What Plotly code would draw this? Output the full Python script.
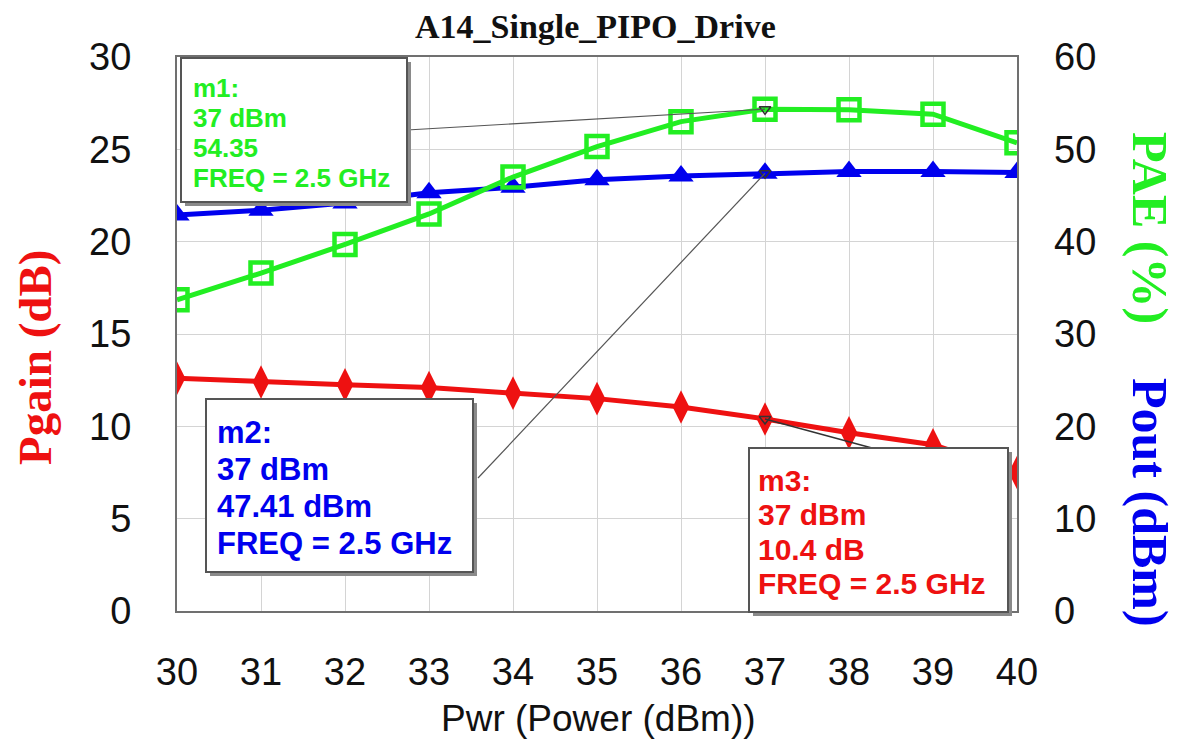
import plotly.graph_objects as go

# ---------------- data ----------------
pwr = [30, 31, 32, 33, 34, 35, 36, 37, 38, 39, 40]
pgain = [12.6, 12.4, 12.25, 12.1, 11.8, 11.5, 11.05, 10.4, 9.65, 9.0, 7.5]
pae = [33.7, 36.6, 39.7, 43.0, 47.0, 50.3, 53.0, 54.35, 54.3, 53.8, 50.7]
pout = [42.9, 43.4, 44.2, 45.3, 45.9, 46.7, 47.1, 47.41, 47.6, 47.6, 47.5]
x_ticks = [30, 31, 32, 33, 34, 35, 36, 37, 38, 39, 40]
left_ticks = [0, 5, 10, 15, 20, 25, 30]
right_ticks = [0, 10, 20, 30, 40, 50, 60]
marker_x = 37
m1_lines = ["m1:", "37 dBm", "54.35", "FREQ = 2.5 GHz"]
m2_lines = ["m2:", "37 dBm", "47.41 dBm", "FREQ = 2.5 GHz"]
m3_lines = ["m3:", "37 dBm", "10.4 dB", "FREQ = 2.5 GHz"]

GREEN = "#22ee22"
BLUE = "#0000ee"
RED = "#ee1111"

OFF = 8  # page body margin in the browser
W, H = 1180 - OFF, 751 - OFF
PX0, PX1, PY0, PY1 = 177, 1017, 57, 611  # plot area in reference pixels


def px2paper_x(px):
    return (px - PX0) / (PX1 - PX0)


def px2paper_y(py):
    return (PY1 - py) / (PY1 - PY0)


def px2x(px):
    return 30 + (px - PX0) / (PX1 - PX0) * 10


def px2y(py, top):
    return (PY1 - py) / (PY1 - PY0) * top


fig = go.Figure()

fig.add_trace(go.Scatter(x=pwr, y=pgain, mode="lines+markers", yaxis="y",
                         line=dict(color=RED, width=5),
                         marker=dict(symbol="diamond-tall", size=24, color=RED,
                                     line=dict(width=0)),
                         showlegend=False))
fig.add_trace(go.Scatter(x=pwr, y=pout, mode="lines+markers", yaxis="y2",
                         line=dict(color=BLUE, width=5),
                         marker=dict(symbol="triangle-up", size=22, color=BLUE,
                                     line=dict(width=0)),
                         showlegend=False))
fig.add_trace(go.Scatter(x=pwr, y=pae, mode="lines+markers", yaxis="y2",
                         line=dict(color=GREEN, width=5),
                         marker=dict(symbol="square-open", size=21, color=GREEN,
                                     line=dict(width=4.5, color=GREEN)),
                         showlegend=False))

i37 = pwr.index(marker_x)
# marker glyphs at 37 dBm
fig.add_trace(go.Scatter(x=[marker_x, marker_x], y=[pae[i37], pout[i37]], mode="markers",
                         yaxis="y2",
                         marker=dict(symbol="triangle-down-open", size=10, color="#333333",
                                     line=dict(width=1.5, color="#333333")),
                         showlegend=False))
fig.add_trace(go.Scatter(x=[marker_x], y=[pgain[i37]], mode="markers", yaxis="y",
                         marker=dict(symbol="triangle-down-open", size=10, color="#333333",
                                     line=dict(width=1.5, color="#333333")),
                         showlegend=False))

shapes = []
annotations = []

# connector lines
shapes.append(dict(type="line", xref="x", yref="y2", layer="above",
                   x0=px2x(407), y0=px2y(130, 60), x1=marker_x, y1=pae[i37],
                   line=dict(color="#555555", width=1.2)))
shapes.append(dict(type="line", xref="x", yref="y2", layer="above",
                   x0=px2x(478), y0=px2y(478, 60), x1=marker_x, y1=pout[i37],
                   line=dict(color="#555555", width=1.2)))
shapes.append(dict(type="line", xref="x", yref="y", layer="above",
                   x0=px2x(872), y0=px2y(448, 30), x1=marker_x, y1=pgain[i37],
                   line=dict(color="#333333", width=1.5)))


def add_box(x0, y0, x1, y1, lines, color, fsize, first_y, step, tx):
    shapes.append(dict(type="rect", xref="paper", yref="paper", layer="above",
                       x0=px2paper_x(x0 + 4), x1=px2paper_x(x1 + 4),
                       y0=px2paper_y(y1 + 4), y1=px2paper_y(y0 + 4),
                       fillcolor="#8a8a8a", line=dict(width=0)))
    shapes.append(dict(type="rect", xref="paper", yref="paper", layer="above",
                       x0=px2paper_x(x0), x1=px2paper_x(x1),
                       y0=px2paper_y(y1), y1=px2paper_y(y0),
                       fillcolor="white", line=dict(color="#555555", width=2)))
    for k, t in enumerate(lines):
        annotations.append(dict(xref="paper", yref="paper", x=px2paper_x(tx),
                                y=px2paper_y(first_y + k * step), text="<b>" + t + "</b>",
                                showarrow=False, xanchor="left", yanchor="middle",
                                font=dict(family="Liberation Sans", size=fsize,
                                          color=color)))


add_box(181, 58, 407, 202, m1_lines, GREEN, 26, 88, 30, 191)
add_box(206, 399, 473, 572, m2_lines, BLUE, 31, 432, 37, 215)
add_box(749, 448, 1008, 612, m3_lines, RED, 30, 480, 34.5, 756)

# titles
annotations.append(dict(xref="paper", yref="paper", x=px2paper_x(595), y=px2paper_y(27),
                        text="<b>A14_Single_PIPO_Drive</b>", showarrow=False,
                        xanchor="center", yanchor="middle",
                        font=dict(family="Liberation Serif", size=34, color="#111111")))
annotations.append(dict(xref="paper", yref="paper", x=px2paper_x(598), y=px2paper_y(718),
                        text="Pwr (Power (dBm))", showarrow=False,
                        xanchor="center", yanchor="middle",
                        font=dict(family="Liberation Sans", size=37, color="#111111")))
annotations.append(dict(xref="paper", yref="paper", x=px2paper_x(35), y=px2paper_y(358),
                        text="<b>Pgain (dB)</b>", showarrow=False, textangle=-90,
                        xanchor="center", yanchor="middle",
                        font=dict(family="Liberation Serif", size=47, color=RED)))
annotations.append(dict(xref="paper", yref="paper", x=px2paper_x(1150), y=px2paper_y(228),
                        text="<b>PAE (%)</b>", showarrow=False, textangle=90,
                        xanchor="center", yanchor="middle",
                        font=dict(family="Liberation Serif", size=50, color=GREEN)))
annotations.append(dict(xref="paper", yref="paper", x=px2paper_x(1150), y=px2paper_y(502),
                        text="<b>Pout (dBm)</b>", showarrow=False, textangle=90,
                        xanchor="center", yanchor="middle",
                        font=dict(family="Liberation Serif", size=50, color=BLUE)))

tickfont = dict(family="Liberation Sans", size=38, color="#111111")

fig.update_layout(
    width=W, height=H,
    margin=dict(l=PX0 - OFF, r=W - (PX1 - OFF), t=PY0 - OFF, b=H - (PY1 - OFF)),
    paper_bgcolor="white", plot_bgcolor="white",
    xaxis=dict(range=[30, 40], tickvals=x_ticks, ticktext=[str(v) for v in x_ticks],
               showgrid=True, gridcolor="#d4d4d4", gridwidth=1,
               showline=True, linecolor="#707070", linewidth=2, mirror=True,
               zeroline=False, ticks="", tickfont=tickfont, ticklabelstandoff=26),
    yaxis=dict(range=[0, 30], tickvals=left_ticks, ticktext=[str(v) for v in left_ticks],
               showgrid=True, gridcolor="#d4d4d4", gridwidth=1,
               showline=True, linecolor="#707070", linewidth=2, mirror=True,
               zeroline=False, ticks="", tickfont=tickfont, ticklabelstandoff=36),
    yaxis2=dict(range=[0, 60], tickvals=right_ticks, ticktext=[str(v) for v in right_ticks],
                overlaying="y", side="right", showgrid=False,
                showline=False, zeroline=False, ticks="", tickfont=tickfont,
                ticklabelstandoff=36),
    shapes=shapes, annotations=annotations,
)

fig.write_html("out.html")
